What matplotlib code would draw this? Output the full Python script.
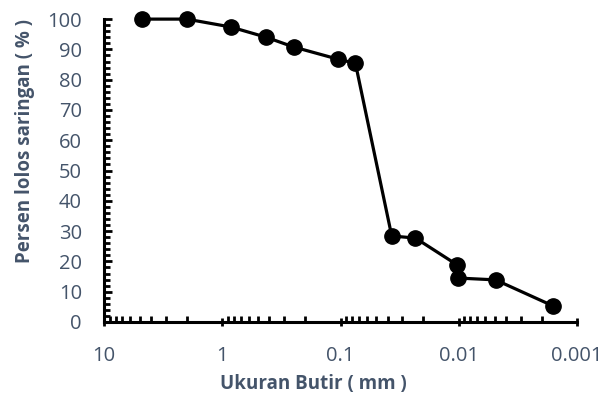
import matplotlib.pyplot as plt
from matplotlib.ticker import FixedLocator, LogLocator, MultipleLocator, NullFormatter

# grain size (mm) and percent passing
ukuran = [4.75, 2.0, 0.85, 0.425, 0.25, 0.106, 0.075, 0.037, 0.0233, 0.0103, 0.0101, 0.0049, 0.0016]
lolos = [100, 100, 97.4, 94.0, 90.8, 86.8, 85.4, 28.4, 27.7, 18.8, 14.5, 13.9, 5.3]

x_ticks = [10, 1, 0.1, 0.01, 0.001]
x_labels = ['10', '1', '0.1', '0.01', '0.001']

txt = '#44546A'
plt.rcParams['font.family'] = ['Open Sans', 'DejaVu Sans']

fig = plt.figure(figsize=(6.16, 3.98), dpi=100)
ax = fig.add_axes([0.169, 0.191, 0.768, 0.761])

ax.plot(ukuran, lolos, color='black', lw=2.3, marker='o', ms=11, zorder=3, clip_on=False)

ax.set_xscale('log')
ax.set_xlim(10, 0.001)
ax.set_ylim(0, 100)

ax.xaxis.set_major_locator(FixedLocator(x_ticks))
ax.set_xticklabels(x_labels)
ax.xaxis.set_minor_locator(LogLocator(base=10, subs=range(2, 10)))
ax.xaxis.set_minor_formatter(NullFormatter())
ax.yaxis.set_major_locator(MultipleLocator(10))
ax.yaxis.set_minor_locator(MultipleLocator(2))

for s in ['top', 'right']:
    ax.spines[s].set_visible(False)
for s in ['left', 'bottom']:
    ax.spines[s].set_linewidth(2.2)

ax.tick_params(which='major', length=6, width=2, colors='black', labelcolor=txt, labelsize=14.5)
ax.tick_params(which='minor', direction='in', length=4, width=2, colors='black')
ax.tick_params(axis='x', which='major', direction='inout', pad=14)
ax.tick_params(axis='y', which='major', direction='in', pad=16)

ax.set_xlabel('Ukuran Butir ( mm )', color=txt, fontsize=13.5, fontweight='bold')
ax.set_ylabel('Persen lolos saringan ( % )', color=txt, fontsize=13.5, fontweight='bold')
ax.xaxis.set_label_coords(0.442, -0.205)
ax.xaxis.label.set_va('center')
ax.yaxis.set_label_coords(-0.167, 0.597)
ax.yaxis.label.set_va('center')

fig.savefig('out.png', dpi=100)
